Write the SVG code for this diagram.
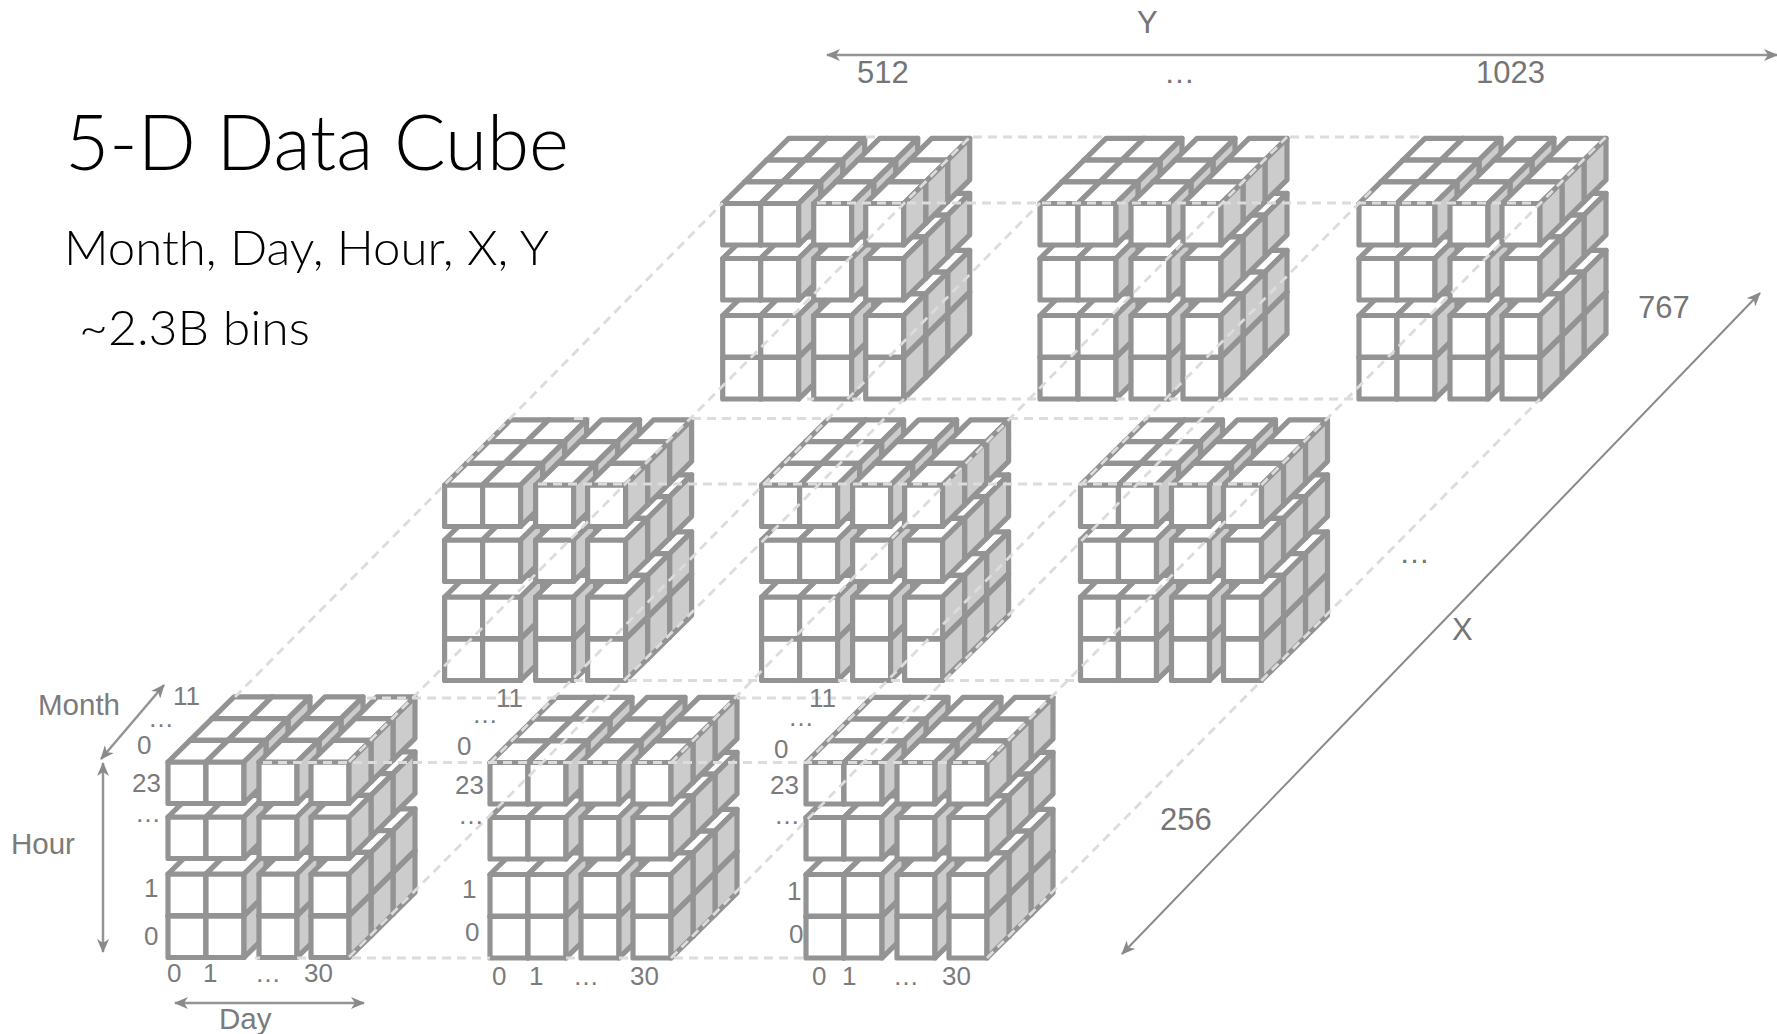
<svg xmlns="http://www.w3.org/2000/svg" xmlns:xlink="http://www.w3.org/1999/xlink" width="1777" height="1034" viewBox="0 0 1777 1034">
<style>
.cell{stroke:#939393;stroke-width:5.2;stroke-linejoin:round}
.f{fill:#fff}.s{fill:#ccc}
.dash{stroke:#dcdcdc;stroke-width:2.8;stroke-dasharray:9 6;fill:none}
.arrow{stroke:#949494;stroke-width:2.5;fill:none;marker-start:url(#head);marker-end:url(#head)}
.arrow.thin{stroke:#8a8a8a;stroke-width:2}
text{font-family:"Liberation Sans",Arial,sans-serif;fill:#7b7b7b}
.n{font-size:26px}.b{font-size:31px;fill:#757575}.a{font-size:29.5px}
.t{font-family:Lato,"Noto Sans",sans-serif;font-weight:300;fill:#000}
</style>
<defs>
<marker id="head" viewBox="0 0 14 12" refX="13" refY="6" markerWidth="14" markerHeight="12" markerUnits="userSpaceOnUse" orient="auto-start-reverse">
<path d="M0 0L14 6L0 12L4 6Z" fill="#8a8a8a"/>
</marker>
<g id="c" class="cell">
<path class="f" d="M0 0h38v-41.5h-38z"/>
<path class="f" d="M0 -41.5l22 -21.7h38l-22 21.7z"/>
<path class="s" d="M38 0l22 -21.7v-41.5l-22 21.7z"/>
</g>
<g id="row">
<use href="#c" x="0"/><use href="#c" x="38"/><use href="#c" x="91"/><use href="#c" x="143"/>
</g>
<g id="layer">
<use href="#row" y="0"/><use href="#row" y="-42"/><use href="#row" y="-99"/><use href="#row" y="-154"/>
</g>
<g id="cube">
<use href="#layer" x="44" y="-43.4"/><use href="#layer" x="22" y="-21.7"/><use href="#layer"/>
</g>
</defs>
<rect width="1777" height="1034" fill="#fff"/>
<g id="cube-top-1"><use href="#cube" x="722.7" y="399"/></g>
<g id="cube-top-2"><use href="#cube" x="1040" y="399"/></g>
<g id="cube-top-3"><use href="#cube" x="1359" y="399"/></g>
<g id="cube-mid-1"><use href="#cube" x="444.6" y="680.5"/></g>
<g id="cube-mid-2"><use href="#cube" x="761.6" y="680.5"/></g>
<g id="cube-mid-3"><use href="#cube" x="1080.5" y="680.5"/></g>
<g id="cube-bot-1"><use href="#cube" x="168" y="957.5"/></g>
<g id="cube-bot-2"><use href="#cube" x="490" y="958"/></g>
<g id="cube-bot-3"><use href="#cube" x="806" y="958"/></g>
<g id="connectors">
<path class="dash" d="M866 137H880M973 137H1106M1290 137H1425"/>
<path class="dash" d="M817 203H1537M538 484H1260M263 762.5H976"/>
<path class="dash" d="M807 399H814M852 399H866M907 399H1040M1116 399H1131M1169 399H1183M1224 399H1357"/>
<path class="dash" d="M574 418.5H590M692 418.5H828M1009 418.5H1148"/>
<path class="dash" d="M574 680.5H588M628 680.5H762M838 680.5H853M891 680.5H905M945 680.5H1080"/>
<path class="dash" d="M367 698H556M737 698H872"/>
<path class="dash" d="M255 958H260M297 958H311M352 958H490M566 958H581M619 958H633M674 958H806"/>
<path class="dash" d="M235 697L722.7 203M349 762L970 137M349 957L904 399"/>
<path class="dash" d="M490 763L1040 203M671 763L1287 137M671 958L1221 399"/>
<path class="dash" d="M806 763L1375 187M987 762L1606 137M987 958L1540 399"/>
<path class="arrow" d="M1777 55H827"/>
<path class="arrow thin" d="M1760 293L1122 954"/>
<path class="arrow" d="M164 685L101 759"/>
<path class="arrow" d="M103 763V952"/>
<path class="arrow" d="M175 1003H364"/>
</g>
<g id="titles">
<text class="t" x="65" y="170" font-size="76" textLength="504" lengthAdjust="spacingAndGlyphs">5-D Data Cube</text>
<text class="t" x="64" y="265" font-size="48" textLength="485" lengthAdjust="spacingAndGlyphs">Month, Day, Hour, X, Y</text>
<text class="t" x="79" y="345" font-size="48" textLength="231" lengthAdjust="spacingAndGlyphs">~2.3B bins</text>
</g>
<g id="axis-labels">
<text class="b" x="1137" y="33">Y</text>
<text class="b" x="857" y="83">512</text>
<text class="b" x="1164" y="83">…</text>
<text class="b" x="1476" y="83">1023</text>
<text class="b" x="1638" y="318">767</text>
<text class="b" x="1399" y="563">…</text>
<text class="b" x="1452" y="640">X</text>
<text class="b" x="1160" y="830">256</text>
<text class="a" x="38" y="715">Month</text>
<text class="a" x="11" y="854">Hour</text>
<text class="a" x="219" y="1029">Day</text>
</g>
<g id="cube-labels">
<g class="n">
<text x="173" y="705">11</text><text x="148" y="727">…</text><text x="137" y="754">0</text><text x="132" y="792">23</text><text x="135" y="822">…</text><text x="144" y="897">1</text><text x="144" y="945">0</text>
<text x="167" y="982">0</text><text x="203" y="982">1</text><text x="255" y="982">…</text><text x="304" y="982">30</text>
<text x="496" y="707">11</text><text x="472" y="723">…</text><text x="457" y="755">0</text><text x="455" y="794">23</text><text x="458" y="824">…</text><text x="462" y="898">1</text><text x="465" y="941">0</text>
<text x="492" y="985">0</text><text x="529" y="985">1</text><text x="573" y="985">…</text><text x="630" y="985">30</text>
<text x="809" y="707">11</text><text x="788" y="726">…</text><text x="774" y="758">0</text><text x="770" y="794">23</text><text x="774" y="824">…</text><text x="787" y="900">1</text><text x="789" y="943">0</text>
<text x="812" y="985">0</text><text x="842" y="985">1</text><text x="893" y="985">…</text><text x="942" y="985">30</text>
</g>
</g>
</svg>
